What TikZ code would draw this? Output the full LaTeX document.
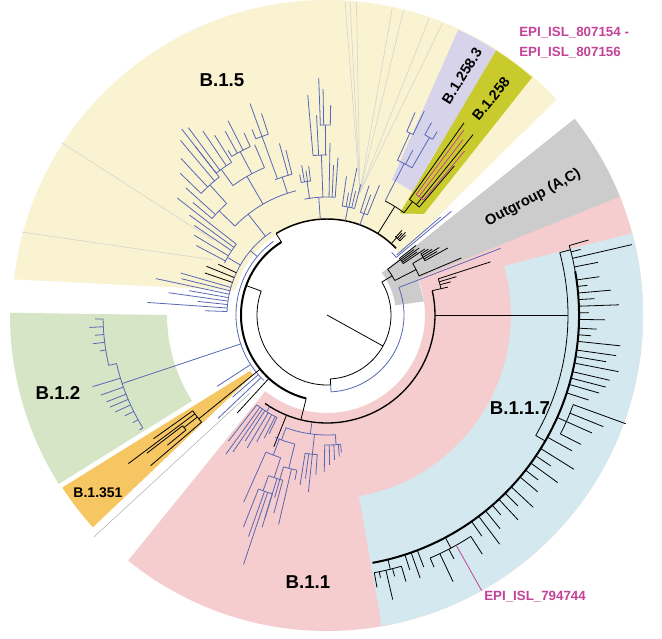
\documentclass[tikz,border=0pt]{standalone}
\usepackage{tikz}
\usepackage{xcolor}
\usepackage{fontspec}
\setmainfont{Liberation Sans}

\definecolor{cB15}{RGB}{249,243,210}
\definecolor{cB12583}{RGB}{214,211,235}
\definecolor{cB1258}{RGB}{201,203,44}
\definecolor{cOut}{RGB}{204,204,204}
\definecolor{cB11}{RGB}{246,205,206}
\definecolor{cB117}{RGB}{212,232,239}
\definecolor{cB12}{RGB}{213,229,198}
\definecolor{cB1351}{RGB}{245,198,98}
\definecolor{treeblue}{RGB}{88,104,180}
\definecolor{epi}{RGB}{196,66,152}

\tikzset{
  blk/.style={draw=black,line width=0.6pt},
  blu/.style={draw=treeblue,line width=0.6pt},
  mag/.style={draw=epi,line width=0.6pt},
  thk/.style={draw=black,line width=1.5pt},
  sep/.style={draw=black!18,line width=0.4pt},
  clade/.style={font=\bfseries\fontsize{14}{16}\selectfont,inner sep=0.75pt},
  subclade/.style={font=\bfseries\fontsize{10.8}{13}\selectfont,inner sep=0.5pt},
  epilbl/.style={font=\bfseries\fontsize{10}{12}\selectfont,text=epi,inner sep=0.75pt,anchor=west}
}

% branch along a radius: [style]{angle}{r1}{r2}
\newcommand{\tbranch}[4][blk]{\draw[#1] (#2:#3) -- (#2:#4);}
% arc at a radius: [style]{r}{angle1}{angle2}
\newcommand{\tarc}[4][blk]{\draw[#1] (#3:#2) arc[start angle=#3,end angle=#4,radius=#2];}
% tips from one radius: [style]{r}{angle/end,...}
\newcommand{\ttips}[3][blk]{\foreach \ta/\tl in {#3} {\draw[#1] (\ta:#2) -- (\ta:\tl);}}

\begin{document}
\begin{tikzpicture}[x=0.75pt,y=0.75pt,yscale=-1,xscale=1]
%uncomment if require: \path (0,639); %set diagram left start at 0, and has height of 639
\useasboundingbox (0,0) rectangle (662,639);
\fill[white] (0,0) rectangle (662,639);

\begin{scope}[shift={(327,315)},yscale=-1]
%Shape: Sector B.1.5
\fill[cB15] (165:95) -- (173.5:315) arc[start angle=173.5,end angle=43.2,radius=315] -- (40:95) arc[start angle=40,end angle=165,radius=95] -- cycle;
%Shape: Sector B.1.258.3
\fill[cB12583] (64.3:150) -- (65.3:314) arc[start angle=65.3,end angle=57.4,radius=314] -- (55:150) arc[start angle=55,end angle=64.3,radius=150] -- cycle;
%Shape: Sector B.1.258
\fill[cB1258] (54.4:125) -- (57.4:314) arc[start angle=57.4,end angle=49.2,radius=314] -- (46.2:140) -- cycle;
%Shape: Sector Outgroup
\fill[cOut] (37.5:69) -- (38.4:316) arc[start angle=38.4,end angle=21.8,radius=316] -- (21.8:98) -- (8:98) -- (8:69) arc[start angle=8,end angle=37.5,radius=69] -- cycle;
%Shape: Sector B.1.1
\fill[cB11] (231:98) -- (231:316) arc[start angle=231,end angle=382,radius=316] -- (382:98) arc[start angle=382,end angle=231,radius=98] -- cycle;
%Shape: Sector B.1.1.7
\fill[cB117] (15.5:184) -- (15:316) arc[start angle=15,end angle=-80,radius=316] -- (-80:184) arc[start angle=-80,end angle=15.5,radius=184] -- cycle;
%Shape: Sector B.1.2
\fill[cB12] (180:160) -- (179.6:317) arc[start angle=179.6,end angle=212.2,radius=317] -- (212.5:160) arc[start angle=212.5,end angle=180,radius=160] -- cycle;
%Shape: Sector B.1.351
\fill[cB1351] (216:95) -- (213.1:316) arc[start angle=213.1,end angle=222.2,radius=316] -- (219:95) -- cycle;
\draw[sep,draw=black!30] (225.4:110) -- (223.6:322);

%Shape: sub-sector lines in B.1.5
\draw[sep] (146.7:137) -- (147:316);
\draw[sep] (154.2:127) -- (164.8:316);
\foreach \sa in {86.7,85.8,84.6,78,75.9,71,68.4} {\draw[sep] (75:127) -- (\sa:314);}

%Tree: root and inner rings
\tbranch{331}{0}{64}
\tarc{64}{273}{391}
\tbranch{273}{64}{70}
\tarc{70}{160}{273}
\tbranch[blu]{273}{70}{77}
\tarc[blu]{77}{273}{381}
\tbranch[blu]{21}{77}{186}
\tbranch{160}{70}{86}
\tarc[thk]{86}{122}{256}
\tbranch{122}{86}{96}
\tarc[blk,line width=1.1pt]{96}{44}{122}
\tarc[blu]{91}{126}{226}

%Tree: outgroup (A,C)
\tbranch{31}{64}{76}
\tarc{76}{27}{37}
\tbranch{27}{76}{100}
\tarc{100}{23}{31}
\tbranch{23}{100}{146}
\tbranch{31}{100}{112}
\tarc{112}{29}{33}
\ttips{112}{29/138,30/127,31/131,32/124,33/121}
\tbranch{37}{76}{92}
\tarc{92}{34}{38}
\ttips{92}{34/118,35/110,36/114,37/109,38/113}
\tarc[blu]{90}{39.8}{44}
\tbranch[blu]{39.8}{90}{162}
\tbranch[blu]{40.8}{92}{150}

%Tree: B.1.258 and B.1.258.3
\tbranch{48}{96}{104}
\tarc{104}{45.5}{49}
\ttips{104}{45.5/112,46.5/114,47.5/111,48.5/113}
\tbranch{58}{96}{128}
\tarc{128}{53}{63}
\tbranch[blu]{63}{128}{170}
\tarc[blu]{170}{60}{65.5}
\tbranch[blu]{65.5}{170}{200}
\tarc[blu]{200}{64.5}{66.5}
\ttips[blu]{200}{64.5/226,66.5/221}
\tbranch[blu]{60}{170}{205}
\tarc[blu]{205}{59}{61.5}
\ttips[blu]{205}{59/214,61.5/219}
\tbranch[blu]{62.5}{170}{186}
\tbranch{53}{128}{142}
\tarc{142}{49.5}{54.5}
\tbranch{54.5}{142}{236}
\tbranch{51}{142}{232}
\tarc[mag]{150}{50}{53.5}
\tbranch[mag]{53.5}{150}{230}
\tbranch[mag]{52.2}{150}{222}
\tbranch[mag]{50}{150}{214}
\tbranch{49.5}{142}{196}

%Tree: B.1.5
\tbranch[blu]{70}{96}{108}
\tarc[blu]{108}{68}{72}
\ttips[blu]{108}{68/140,70/128,72/136}
\tbranch[blu]{79}{96}{110}
\tarc[blu]{110}{75.5}{82}
\ttips[blu]{110}{75.5/135,77/127,78.5/150,80/124,82/140}
\tbranch[blu]{94}{96}{118}
\tarc[blu]{118}{86}{101}
\ttips[blu]{118}{86/158,87.5/150,89/172}
\tbranch[blu]{92}{118}{160}
\tarc[blu]{160}{90}{95}
\ttips[blu]{160}{95/221,93/200}
\tbranch[blu]{90.5}{160}{190}
\tarc[blu]{190}{89}{92}
\ttips[blu]{190}{89/210,91/226,92/237}
\tbranch[blu]{98.5}{118}{135}
\tarc[blu]{135}{97}{101}
\ttips[blu]{135}{97/150,98.3/146,99.6/152,101/143}
\tbranch[blu]{140}{91}{100}
\tarc[blu]{100}{124}{178}
\ttips[blu]{100}{164/152,166/150,168/175,170/140,172/160,174/130,176/180,178/122}
\ttips{100}{155/120,158/130,161/129}
\tbranch[blu]{150}{100}{115}
\tarc[blu]{115}{142}{153}
\ttips[blu]{115}{142/190,144/170,146/160,149/155,152/148}
\tbranch[blu]{128}{100}{128}
\tarc[blu]{128}{104}{136}
\tbranch[blu]{136}{128}{150}
\tarc[blu]{150}{132}{140}
\ttips[blu]{150}{140/175,138/190}
\tbranch[blu]{132}{150}{175}
\tarc[blu]{175}{128}{136}
\ttips[blu]{175}{128/236,130/228,133/214,136/204}
\tbranch[blu]{120}{128}{160}
\tarc[blu]{160}{113}{126}
\tbranch[blu]{126}{160}{180}
\tarc[blu]{180}{122}{128}
\ttips[blu]{180}{122/212,124/222,126.5/233,128/214}
\tbranch[blu]{118}{160}{185}
\tarc[blu]{185}{114.5}{121}
\ttips[blu]{185}{114.5/200,117/218,119/210,121/192}
\tbranch[blu]{113}{160}{185}
\tbranch[blu]{108}{128}{145}
\tarc[blu]{145}{104}{111}
\tbranch[blu]{110}{145}{190}
\tarc[blu]{190}{108}{112}
\ttips[blu]{190}{108/212,110/225,112/200}
\ttips[blu]{145}{104/170,105.5/178}

%Tree: B.1.2
\tbranch[blu]{198.5}{91}{216}
\tarc[blu]{216}{193}{211.5}
\ttips[blu]{216}{197/245,199.5/240,201.5/237,203/236,204.6/233,206.5/226,209/222,211.5/220}
\tbranch[blu]{193}{216}{224}
\tarc[blu]{224}{181}{193}
\ttips[blu]{224}{181/232,183/238,185/233,187/236,189/230}
\ttips[blu]{91}{213/131,221/125,223.5/150}
\tbranch{227.5}{86}{133}

%Tree: B.1.351
\tbranch{219}{86}{165}
\tarc{165}{215.5}{220.5}
\ttips{165}{215.5/213,216.8/248,220.5/232}
\tbranch{218.2}{165}{182}
\tarc{182}{217.5}{219.2}
\ttips{182}{217.5/227,219.2/206}

%Tree: B.1.1
\tbranch{256}{86}{108}
\tarc[blk,line width=1pt]{108}{235}{373}
\tbranch{248}{108}{142}
\tbranch[blu]{262}{108}{120}
\tarc[blu]{120}{250}{274}
\tbranch[blu]{274}{120}{130}
\tarc[blu]{130}{269}{276}
\ttips[blu]{130}{269/157,271/150,273/145,275/142,276/138}
\tbranch[blu]{264}{120}{140}
\tarc[blu]{140}{261}{266}
\ttips[blu]{140}{261/172,262.5/165,264/178,266/160}
\tbranch[blu]{250}{120}{133}
\tarc[blu]{133}{247}{256}
\tbranch[blu]{256}{133}{158}
\tarc[blu]{158}{254}{259}
\ttips[blu]{158}{259/168,257/215,254/190}
\tbranch[blu]{249}{133}{150}
\tarc[blu]{150}{246}{252}
\ttips[blu]{150}{246/205}
\tbranch[blu]{252}{150}{171}
\tarc[blu]{171}{250}{255}
\ttips[blu]{171}{255/205,253/222}
\tbranch[blu]{250}{171}{187}
\tarc[blu]{187}{248.5}{253}
\ttips[blu]{187}{248.5/228,250.5/235,251.5/263,253/212}
\tbranch[blu]{238}{108}{114}
\tarc[blu]{114}{232}{244}
\ttips[blu]{114}{232/160,234/172,235.5/166,237/150,239/155,241/145,243/138,244/132}

%Tree: small cluster above B.1.1.7
\tbranch{13}{108}{117}
\tarc{117}{13}{18}
\ttips{117}{18/172,16.5/135,15/128,13/124}

%Tree: B.1.1.7
\tbranch{0}{108}{241}
\tarc{241}{-30}{15}
\tbranch{15}{241}{252}
\tarc{252}{10}{16}
\ttips{252}{16/272,14.5/262,13/313,11/276}
\tbranch{-30}{241}{252}
\tarc[thk]{252}{-79.6}{10}
\ttips{252}{8/275,6.5/262,5/285,3.5/268,2/292,0.5/262,-1/278,-3/270,-4.5/265,-6/295,-8/292,-9.5/283,-11/297,-13/290,-14.5/288,-16/283,-18/275,-29/280,-32/291,-34/270,-36/285,-38/268,-40/275,-43/282,-45/270,-47/280,-49/265,-51/275,-53/287,-55/270,-69/270,-70.5/279,-72/268}
\tbranch{-24}{252}{262}
\tarc{262}{-27}{-20}
\ttips{262}{-20/318,-22/298,-24/290,-27/285}
\tbranch{-62}{252}{264}
\tarc{264}{-57}{-67}
\ttips{264}{-57/285,-62.5/275,-64.7/295,-67/274}
\tbranch[mag]{-60.7}{264}{316}
\tbranch{-76}{252}{262}
\tarc{262}{-73.5}{-79.6}
\ttips{262}{-73.5/278,-75.5/270,-77/292,-78.5/268,-79.6/277}
\end{scope}

% Text Node
\draw (222,80) node [clade] (lblB15) {B.1.5};
% Text Node
\draw (520,408) node [clade] (lblB117) {B.1.1.7};
% Text Node
\draw (308,582) node [clade] (lblB11) {B.1.1};
% Text Node
\draw (58,393) node [clade] (lblB12) {B.1.2};
% Text Node
\draw (98,493) node [subclade,font=\bfseries\fontsize{10.5}{12}\selectfont] (lblB1351) {B.1.351};
% Text Node
\draw (533,198) node [subclade,font=\bfseries\fontsize{11}{13}\selectfont,rotate=28] (lblOut) {Outgroup (A,C)};
% Text Node
\draw (462,76) node [subclade,rotate=58] (lblB12583) {B.1.258.3};
% Text Node
\draw (491,99) node [subclade,rotate=51] (lblB1258) {B.1.258};
% Text Node
\draw (518,33) node [epilbl] (epiA) {EPI\_ISL\_807154 -};
% Text Node
\draw (518,53) node [epilbl] (epiB) {EPI\_ISL\_807156};
% Text Node
\draw (483,597) node [epilbl] (epiC) {EPI\_ISL\_794744};

\end{tikzpicture}
\end{document}
